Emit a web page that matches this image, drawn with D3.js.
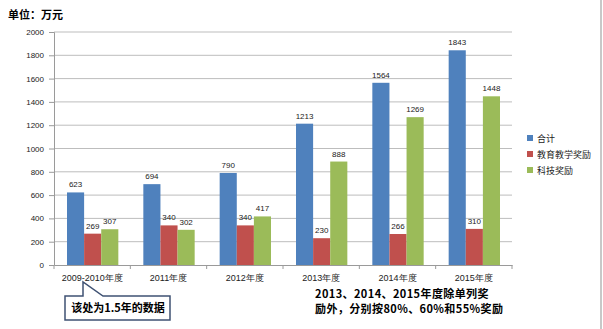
<!DOCTYPE html>
<html>
<head>
<meta charset="utf-8">
<script src="https://cdn.jsdelivr.net/npm/d3@7"></script>
<style>
  body { margin: 0; background: #fff; }
  svg { display: block; font-family: "Liberation Sans", "Noto Sans CJK SC", sans-serif; }
</style>
</head>
<body>
<div id="chart-area"></div>
<script>
// data
var categories = ["2009-2010年度", "2011年度", "2012年度", "2013年度", "2014年度", "2015年度"];
var seriesNames = ["合计", "教育教学奖励", "科技奖励"];
var totalValues = [623, 694, 790, 1213, 1564, 1843];
var teachValues = [269, 340, 340, 230, 266, 310];
var techValues = [307, 302, 417, 888, 1269, 1448];
var yTicks = [0, 200, 400, 600, 800, 1000, 1200, 1400, 1600, 1800, 2000];

var colors = ["#4F81BD", "#C0504D", "#9BBB59"];
var seriesValues = [totalValues, teachValues, techValues];

var W = 603, H = 329;
var margin = {left: 54, right: 91, top: 32, bottom: 64};
var width = W - margin.left - margin.right;
var height = H - margin.top - margin.bottom;

var svg = d3.select("#chart-area").append("svg")
    .attr("width", W).attr("height", H);

var g = svg.append("g")
    .attr("transform", "translate(" + margin.left + "," + margin.top + ")");

// scales
var x = d3.scaleBand().domain(categories).range([0, width]).paddingInner(0).paddingOuter(0);
var x1 = d3.scaleBand().domain(d3.range(3)).range([13, x.bandwidth() - 12]);
var y = d3.scaleLinear().domain([0, 2000]).range([height, 0]);

// gridlines
g.append("g").selectAll("line").data(yTicks.slice(1)).enter().append("line")
    .attr("x1", 0).attr("x2", width)
    .attr("y1", function(d){ return y(d); }).attr("y2", function(d){ return y(d); })
    .attr("stroke", "#bdbdbd").attr("stroke-width", 1);

// y axis
var leftAxis = d3.axisLeft(y).tickValues(yTicks).tickFormat(d3.format("d")).tickSize(5).tickPadding(5);
var ya = g.append("g").attr("class", "y-axis").call(leftAxis);
ya.select(".domain").attr("stroke", "#9a9a9a");
ya.selectAll(".tick line").attr("stroke", "#9a9a9a");
ya.selectAll("text").attr("font-size", "8px").attr("fill", "#222").attr("font-family", "Liberation Sans");

// bars
var groups = g.selectAll(".grp").data(categories).enter().append("g")
    .attr("transform", function(d){ return "translate(" + x(d) + ",0)"; });

groups.each(function(cat, ci){
    var grp = d3.select(this);
    seriesValues.forEach(function(vals, si){
        var v = vals[ci];
        grp.append("rect")
            .attr("x", x1(si)).attr("width", x1.bandwidth())
            .attr("y", y(v)).attr("height", height - y(v))
            .attr("fill", colors[si]);
        grp.append("text")
            .attr("x", x1(si) + x1.bandwidth() / 2)
            .attr("y", y(v) - 5)
            .attr("text-anchor", "middle")
            .attr("font-size", "8px")
            .attr("fill", "#222")
            .text(v);
    });
});

// x axis
var bottomAxis = d3.axisBottom(x).tickSize(0).tickPadding(10);
var xa = g.append("g").attr("transform", "translate(0," + height + ")").call(bottomAxis);
xa.select(".domain").attr("stroke", "#9a9a9a");
xa.selectAll("text").attr("font-size", "9px").attr("fill", "#222");
xa.append("g").selectAll("line").data(d3.range(categories.length + 1)).enter().append("line")
    .attr("x1", function(i){ return i * x.bandwidth(); })
    .attr("x2", function(i){ return i * x.bandwidth(); })
    .attr("y1", 0).attr("y2", 4)
    .attr("stroke", "#9a9a9a");

// unit title
svg.append("text").attr("x", 8).attr("y", 19)
    .attr("font-size", "11px").attr("font-weight", "bold")
    .attr("font-family", "Noto Sans CJK SC")
    .text("单位：万元");

// legend
var legend = svg.append("g").attr("transform", "translate(527,135)");
seriesNames.forEach(function(name, i){
    var row = legend.append("g").attr("transform", "translate(0," + (i * 16) + ")");
    row.append("rect").attr("width", 6).attr("height", 6).attr("fill", colors[i]);
    row.append("text").attr("x", 10).attr("y", 6.5)
        .attr("font-size", "9px").attr("fill", "#222")
        .attr("font-family", "Noto Sans CJK SC")
        .text(name);
});

// callout
var callout = svg.append("g");
callout.append("path")
    .attr("d", "M65,296 L83,296 L83,282 L103,296 L170,296 L170,320 L65,320 Z")
    .attr("fill", "#fff").attr("stroke", "#3f5273").attr("stroke-width", 1.5);
callout.append("text").attr("x", 118).attr("y", 312)
    .attr("text-anchor", "middle")
    .attr("font-size", "11px").attr("font-weight", "bold")
    .attr("font-family", "Noto Sans CJK SC")
    .text("该处为1.5年的数据");

// note
var note = svg.append("text").attr("x", 315)
    .attr("font-size", "11px").attr("font-weight", "bold")
    .attr("font-family", "Noto Sans CJK SC")
    .attr("letter-spacing", "0.4px");
note.append("tspan").attr("x", 315).attr("y", 298).text("2013、2014、2015年度除单列奖");
note.append("tspan").attr("x", 315).attr("y", 313).text("励外，分别按80%、60%和55%奖励");

// right frame edge
svg.append("line").attr("x1", 601).attr("x2", 601).attr("y1", 0).attr("y2", H)
    .attr("stroke", "#c8c8c8").attr("stroke-width", 2);
</script>
</body>
</html>
